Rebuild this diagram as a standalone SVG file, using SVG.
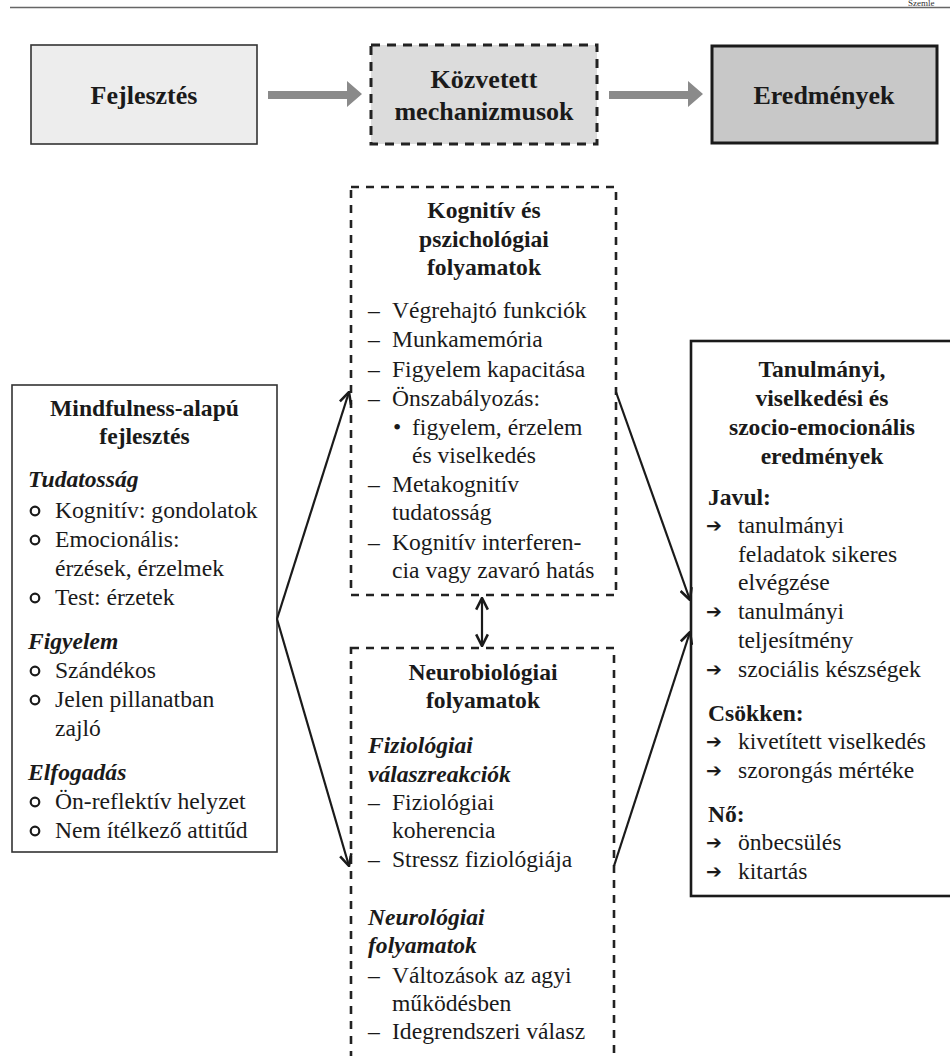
<svg xmlns="http://www.w3.org/2000/svg" width="950" height="1056" viewBox="0 0 950 1056" font-family="'Liberation Serif', Tinos, 'Times New Roman', 'DejaVu Serif', serif">
<defs>
<style>
text{font-family:'Liberation Serif', Tinos, 'Times New Roman', 'DejaVu Serif', serif;fill:#1a1a1a;font-size:23.6px}
.b{font-weight:bold}
.bi{font-weight:bold;font-style:italic}
.c{text-anchor:middle}
.big{font-size:26px;font-weight:bold}
.ar{font-family:'DejaVu Sans', sans-serif;font-size:19px;font-weight:bold}
.ring{fill:none;stroke:#1a1a1a;stroke-width:2.2}
.dash{fill:none;stroke:#222;stroke-width:2.6;stroke-dasharray:8 7}
.conn{fill:none;stroke:#1a1a1a;stroke-width:2.2}
.garrow{fill:#8a8a8a}
</style>
<marker id="ah" markerUnits="userSpaceOnUse" markerWidth="14" markerHeight="14" viewBox="0 0 12 12" refX="11" refY="6" orient="auto-start-reverse">
<path d="M1,1 L11,6 L1,11" fill="none" stroke="#1a1a1a" stroke-width="2.2"/>
</marker>
</defs>

<g id="header">
<line x1="10" y1="7.5" x2="950" y2="7.5" stroke="#666" stroke-width="1.4"/>
<text x="908" y="6" style="font-size:9px;fill:#333">Szemle</text>
</g>

<g id="node-fejlesztes">
<rect x="31" y="45" width="226" height="99" fill="#ededed" stroke="#333" stroke-width="1.6"/>
<text class="big c" x="144" y="104">Fejlesztés</text>
</g>

<g id="node-kozvetett">
<rect x="371" y="45" width="226" height="99" fill="#dcdcdc" stroke="#222" stroke-width="3" stroke-dasharray="9 7"/>
<text class="big c" x="484" y="88">Közvetett</text>
<text class="big c" x="484" y="120">mechanizmusok</text>
</g>

<g id="node-eredmenyek">
<rect x="712" y="46" width="225" height="97" fill="#c8c8c8" stroke="#1a1a1a" stroke-width="3"/>
<text class="big c" x="824" y="104">Eredmények</text>
</g>

<g id="top-arrows">
<path class="garrow" d="M268,91 H347 V81 L362,94 L347,107 V99 H268 Z"/>
<path class="garrow" d="M609,91 H688 V81 L703,94 L688,107 V99 H609 Z"/>
</g>

<g id="node-mindfulness">
<rect x="12" y="385" width="265" height="467" fill="#fff" stroke="#333" stroke-width="1.6"/>
<text class="b c" x="144.5" y="416">Mindfulness-alapú</text>
<text class="b c" x="144.5" y="444">fejlesztés</text>
<text class="bi" x="28" y="487">Tudatosság</text>
<circle class="ring" cx="35" cy="511" r="4.3"/>
<text x="55" y="518">Kognitív: gondolatok</text>
<circle class="ring" cx="35" cy="540" r="4.3"/>
<text x="55" y="547">Emocionális:</text>
<text x="55" y="576">érzések, érzelmek</text>
<circle class="ring" cx="35" cy="598" r="4.3"/>
<text x="55" y="605">Test: érzetek</text>
<text class="bi" x="28" y="649">Figyelem</text>
<circle class="ring" cx="35" cy="671" r="4.3"/>
<text x="55" y="678">Szándékos</text>
<circle class="ring" cx="35" cy="700" r="4.3"/>
<text x="55" y="707">Jelen pillanatban</text>
<text x="55" y="736">zajló</text>
<text class="bi" x="28" y="780">Elfogadás</text>
<circle class="ring" cx="35" cy="802" r="4.3"/>
<text x="55" y="809">Ön-reflektív helyzet</text>
<circle class="ring" cx="35" cy="831" r="4.3"/>
<text x="55" y="838">Nem ítélkező attitűd</text>
</g>

<g id="node-kognitiv">
<rect class="dash" x="351" y="187" width="265" height="408"/>
<text class="b c" x="484" y="218">Kognitív és</text>
<text class="b c" x="484" y="247">pszichológiai</text>
<text class="b c" x="484" y="275">folyamatok</text>
<text x="368" y="318">–</text><text x="392" y="318">Végrehajtó funkciók</text>
<text x="368" y="347">–</text><text x="392" y="347">Munkamemória</text>
<text x="368" y="377">–</text><text x="392" y="377">Figyelem kapacitása</text>
<text x="368" y="406">–</text><text x="392" y="406">Önszabályozás:</text>
<text x="393" y="435">•</text><text x="412" y="435">figyelem, érzelem</text>
<text x="412" y="463">és viselkedés</text>
<text x="368" y="492">–</text><text x="392" y="492">Metakognitív</text>
<text x="392" y="520">tudatosság</text>
<text x="368" y="550">–</text><text x="392" y="550">Kognitív interferen-</text>
<text x="392" y="578">cia vagy zavaró hatás</text>
</g>

<g id="node-neuro">
<rect class="dash" x="351" y="648" width="263" height="430"/>
<text class="b c" x="483" y="680">Neurobiológiai</text>
<text class="b c" x="483" y="708">folyamatok</text>
<text class="bi" x="368" y="753">Fiziológiai</text>
<text class="bi" x="368" y="782">válaszreakciók</text>
<text x="368" y="810">–</text><text x="392" y="810">Fiziológiai</text>
<text x="392" y="838">koherencia</text>
<text x="368" y="867">–</text><text x="392" y="867">Stressz fiziológiája</text>
<text class="bi" x="368" y="925">Neurológiai</text>
<text class="bi" x="368" y="953">folyamatok</text>
<text x="368" y="983">–</text><text x="392" y="983">Változások az agyi</text>
<text x="392" y="1011">működésben</text>
<text x="368" y="1039">–</text><text x="392" y="1039">Idegrendszeri válasz</text>
</g>

<g id="node-eredmenyek-detail">
<rect x="691" y="341" width="262" height="555" fill="#fff" stroke="#1a1a1a" stroke-width="2.6"/>
<text class="b c" x="822" y="377">Tanulmányi,</text>
<text class="b c" x="822" y="406">viselkedési és</text>
<text class="b c" x="822" y="435">szocio-emocionális</text>
<text class="b c" x="822" y="464">eredmények</text>
<text class="b" x="708" y="505">Javul:</text>
<text class="ar" x="706" y="532">➔</text><text x="738" y="533">tanulmányi</text>
<text x="738" y="562">feladatok sikeres</text>
<text x="738" y="590">elvégzése</text>
<text class="ar" x="706" y="618">➔</text><text x="738" y="619">tanulmányi</text>
<text x="738" y="648">teljesítmény</text>
<text class="ar" x="706" y="676">➔</text><text x="738" y="677">szociális készségek</text>
<text class="b" x="708" y="721">Csökken:</text>
<text class="ar" x="706" y="748">➔</text><text x="738" y="749">kivetített viselkedés</text>
<text class="ar" x="706" y="777">➔</text><text x="738" y="778">szorongás mértéke</text>
<text class="b" x="708" y="822">Nő:</text>
<text class="ar" x="706" y="849">➔</text><text x="738" y="850">önbecsülés</text>
<text class="ar" x="706" y="878">➔</text><text x="738" y="879">kitartás</text>
</g>

<g id="connectors">
<line class="conn" x1="277" y1="619" x2="349" y2="392" marker-end="url(#ah)"/>
<line class="conn" x1="277" y1="619" x2="349" y2="866" marker-end="url(#ah)"/>
<line class="conn" x1="616" y1="392" x2="690" y2="600" marker-end="url(#ah)"/>
<line class="conn" x1="614" y1="866" x2="690" y2="632" marker-end="url(#ah)"/>
<line class="conn" x1="482" y1="598" x2="482" y2="646" marker-start="url(#ah)" marker-end="url(#ah)"/>
</g>
</svg>
